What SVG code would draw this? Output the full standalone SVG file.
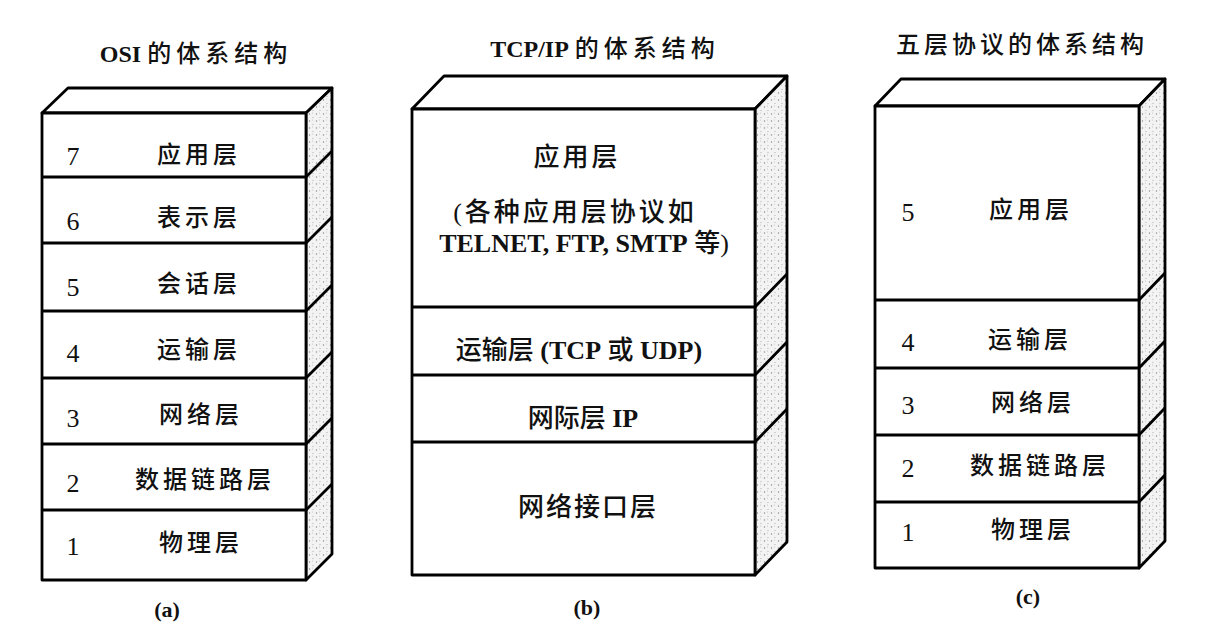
<svg xmlns="http://www.w3.org/2000/svg" width="1222" height="634" viewBox="0 0 1222 634">
<style>
.face{fill:#fff;stroke:#000;stroke-width:2.8;stroke-linejoin:round}
.side{fill:url(#stip);stroke:#000;stroke-width:2.8;stroke-linejoin:round}
.ln{stroke:#000;stroke-width:2.8;fill:none}
text{font-family:"Liberation Serif","Noto Sans CJK SC",serif;fill:#111;dominant-baseline:central;text-anchor:middle;font-weight:500}
.b{font-weight:bold;letter-spacing:0}
.title{font-size:24px}
.cj{letter-spacing:5px}
.lbl{font-size:24px;letter-spacing:4px}
.txt{font-size:26px}
.num{font-size:26px;font-weight:normal}
.cap{font-size:22px;font-weight:bold}
</style>
<defs>
<pattern id="stip" width="7" height="7" patternUnits="userSpaceOnUse">
<rect width="7" height="7" fill="#f3f3f3"/>
<circle cx="1.5" cy="2" r="0.7" fill="#888"/>
<circle cx="5" cy="5.5" r="0.6" fill="#aaa"/>
<circle cx="4.5" cy="1" r="0.5" fill="#bbb"/>
</pattern>
</defs>
<rect width="1222" height="634" fill="#fff"/>

<g id="osi">
<text class="title" x="196" y="54"><tspan class="b">OSI</tspan> <tspan class="cj">的体系结构</tspan></text>
<polygon class="face" points="42,113 68,88 332,88 306,113"/>
<polygon class="side" points="306,113 332,88 332,554 306,580"/>
<rect class="face" x="42" y="113" width="264" height="467"/>
<g id="osi-layers">
<path class="ln" d="M42,177H306M42,243H306M42,311H306M42,378H306M42,444H306M42,510H306"/>
<path class="ln" d="M306,177L332,151M306,243L332,217M306,311L332,285M306,378L332,352M306,444L332,418M306,510L332,484"/>
</g>
<text class="num" x="73" y="156">7</text><text class="lbl" x="199" y="155">应用层</text>
<text class="num" x="73" y="221">6</text><text class="lbl" x="199" y="218">表示层</text>
<text class="num" x="73" y="287">5</text><text class="lbl" x="199" y="284">会话层</text>
<text class="num" x="73" y="353">4</text><text class="lbl" x="199" y="350">运输层</text>
<text class="num" x="73" y="418">3</text><text class="lbl" x="201" y="415">网络层</text>
<text class="num" x="73" y="483">2</text><text class="lbl" x="205" y="480">数据链路层</text>
<text class="num" x="73" y="546">1</text><text class="lbl" x="201" y="543">物理层</text>
<text class="cap" x="167" y="609">(a)</text>
</g>

<g id="tcpip">
<text class="title" x="605" y="49"><tspan class="b">TCP/IP</tspan> <tspan class="cj">的体系结构</tspan></text>
<polygon class="face" points="412,109 444,76 787,76 755,109"/>
<polygon class="side" points="755,109 787,76 787,542 755,575"/>
<rect class="face" x="412" y="109" width="343" height="466"/>
<path class="ln" d="M412,307H755M412,375H755M412,442H755"/>
<path class="ln" d="M755,307L787,274M755,375L787,342M755,442L787,409"/>
<text class="txt" x="577" y="157" font-size="25" letter-spacing="3">应用层</text>
<text class="txt" x="575" y="212" font-size="25" letter-spacing="3">(各种应用层协议如</text>
<text class="txt" x="584" y="243"><tspan class="b">TELNET, FTP, SMTP</tspan> 等)</text>
<text class="txt" x="579" y="350">运输层 <tspan class="b">(TCP</tspan> 或 <tspan class="b">UDP)</tspan></text>
<text class="txt" x="583" y="418">网际层 <tspan class="b">IP</tspan></text>
<text class="txt" x="588" y="507" letter-spacing="2">网络接口层</text>
<text class="cap" x="587" y="607">(b)</text>
</g>

<g id="five">
<text class="title" x="1022" y="45" letter-spacing="4">五层协议的体系结构</text>
<polygon class="face" points="875,106 901,79 1165,79 1139,106"/>
<polygon class="side" points="1139,106 1165,79 1165,541 1139,568"/>
<rect class="face" x="875" y="106" width="264" height="462"/>
<path class="ln" d="M875,300H1139M875,368H1139M875,435H1139M875,502H1139"/>
<path class="ln" d="M1139,300L1165,273M1139,368L1165,341M1139,435L1165,408M1139,502L1165,475"/>
<text class="num" x="908" y="212">5</text><text class="lbl" x="1031" y="210">应用层</text>
<text class="num" x="908" y="342">4</text><text class="lbl" x="1030" y="340">运输层</text>
<text class="num" x="908" y="405">3</text><text class="lbl" x="1033" y="403">网络层</text>
<text class="num" x="908" y="468">2</text><text class="lbl" x="1040" y="466">数据链路层</text>
<text class="num" x="908" y="532">1</text><text class="lbl" x="1033" y="530">物理层</text>
<text class="cap" x="1028" y="596">(c)</text>
</g>
</svg>
